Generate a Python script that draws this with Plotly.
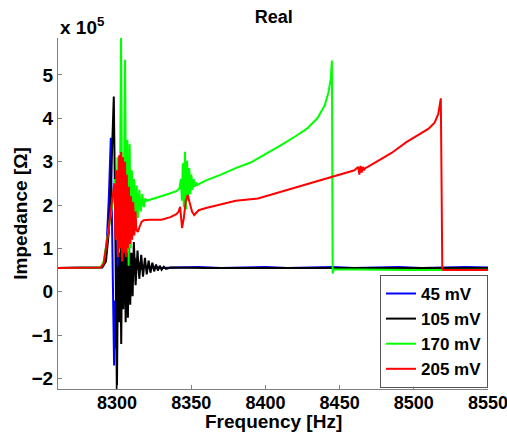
import plotly.graph_objects as go

# Real part of the impedance (units of 1e5 Ohm) versus drive frequency, for four drive levels.
f_45 = [8260, 8280, 8289, 8291, 8293, 8294.5, 8295.8, 8296.6, 8297.3, 8298.0, 8298.7, 8299.4,
        8300.1, 8300.8, 8301.5, 8302.2, 8303.0, 8303.8, 8304.6, 8305.5, 8306.4, 8307.3, 8308.2,
        8309.1, 8310.0, 8311.0, 8312.0, 8313.0, 8314.5, 8316, 8318, 8321, 8325, 8330, 8340,
        8355, 8370, 8385, 8400, 8415, 8430, 8445, 8460, 8475, 8490, 8505, 8520, 8535, 8550]
z_45 = [0.55, 0.56, 0.56, 0.62, 1.1, 2.2, 3.55, 1.6, -0.6, -1.7, -0.2, -1.3, 1.2, -0.6, 1.4,
        -0.3, 1.1, 0.0, 0.95, 0.15, 0.85, 0.3, 0.9, 0.4, 0.85, 0.45, 0.78, 0.5, 0.68, 0.52,
        0.6, 0.55, 0.57, 0.55, 0.56, 0.57, 0.55, 0.56, 0.57, 0.55, 0.56, 0.57, 0.55, 0.56,
        0.57, 0.55, 0.56, 0.57, 0.56]

f_105 = [8260, 8280, 8290, 8292.5, 8294.5, 8296.2, 8297.8, 8298.6, 8299.3, 8299.9, 8300.6,
         8301.3, 8302.0, 8302.8, 8303.5, 8304.2, 8305.0, 8305.8, 8306.6, 8307.3, 8308.1,
         8308.9, 8309.7, 8310.5, 8311.3, 8312.5, 8313.8, 8315.0, 8316.3, 8317.5, 8318.8,
         8320.0, 8321.3, 8322.5, 8323.8, 8325.0, 8326.3, 8327.5, 8328.8, 8330.0, 8331.5,
         8333, 8336, 8345, 8360, 8400, 8450, 8500, 8550]
z_105 = [0.55, 0.55, 0.56, 0.7, 1.4, 2.8, 4.5, 2.2, -0.6, -2.4, 0.6, -0.7, 1.6, -1.2, 1.3,
         -0.4, 1.5, -0.7, 1.0, -0.6, 1.1, -0.3, 0.9, -0.1, 1.15, 0.15, 0.95, 0.3, 0.85, 0.35,
         0.78, 0.4, 0.72, 0.44, 0.67, 0.47, 0.63, 0.49, 0.6, 0.51, 0.58, 0.53, 0.56, 0.55,
         0.55, 0.55, 0.55, 0.55, 0.55]

f_170 = [8260, 8280, 8289, 8291, 8293, 8295, 8297, 8298.5, 8299.4, 8300.3, 8301.3, 8302.0,
         8302.7, 8303.5, 8304.5, 8305.4, 8306.2, 8307.0, 8307.8, 8308.5, 8309.2, 8310.0,
         8310.7, 8311.5, 8312.3, 8313.2, 8314.0, 8315.0, 8316.0, 8317.0, 8318.0, 8319.0,
         8320, 8325, 8330, 8335, 8340, 8342, 8343.0, 8343.7, 8344.3, 8345.0, 8345.8, 8346.5,
         8347.2, 8347.9, 8348.7, 8349.4, 8350.1, 8350.8, 8351.6, 8352.4, 8353.2, 8354, 8356,
         8360, 8370, 8380, 8390, 8400, 8410, 8420, 8428, 8435, 8440, 8442.5, 8444, 8444.8,
         8445.3, 8446, 8460, 8480, 8500, 8520, 8535, 8550]
z_170 = [0.55, 0.55, 0.56, 0.7, 1.1, 1.6, 2.1, 2.6, 1.4, 3.1, 0.9, 2.4, 5.85, 1.1, 2.0, 5.35,
         0.9, 3.5, 0.6, 3.4, 1.0, 2.8, 1.3, 2.6, 1.6, 2.45, 1.7, 2.35, 1.85, 2.25, 1.95, 2.15,
         2.1, 2.15, 2.2, 2.26, 2.32, 2.38, 2.6, 2.1, 2.96, 1.95, 3.23, 1.9, 3.02, 2.1, 2.85,
         2.25, 2.7, 2.35, 2.6, 2.42, 2.52, 2.46, 2.5, 2.57, 2.7, 2.85, 2.98, 3.17, 3.37, 3.58,
         3.76, 4.0, 4.3, 4.6, 4.9, 5.33, 0.42, 0.52, 0.51, 0.51, 0.5, 0.51, 0.51, 0.51]

f_205 = [8260, 8280, 8289, 8291, 8292.5, 8294, 8295.5, 8297, 8298.2, 8299.0, 8299.8, 8300.6,
         8301.4, 8302.0, 8302.8, 8303.4, 8304.0, 8304.7, 8305.4, 8306.0, 8306.6, 8307.3,
         8308.0, 8308.7, 8309.4, 8310.2, 8310.9, 8311.7, 8312.4, 8313.1, 8314, 8315.2, 8316.5,
         8318, 8322, 8330, 8336, 8340, 8341.5, 8342.5, 8343.2, 8343.8, 8345, 8346.3, 8347.6,
         8349, 8350.5, 8352, 8353.5, 8355, 8360, 8370, 8380, 8395, 8410, 8425, 8440, 8452,
         8460, 8462.5, 8463.3, 8464.1, 8464.9, 8465.7, 8466.5, 8467.5, 8469, 8475, 8485, 8495,
         8505, 8510, 8514, 8516.5, 8518.2, 8519.2, 8520, 8535, 8550]
z_205 = [0.55, 0.55, 0.56, 0.65, 0.95, 1.35, 1.8, 2.2, 2.5, 1.2, 2.8, 0.8, 3.15, 1.0, 3.22,
         0.7, 3.1, 0.9, 3.0, 0.8, 2.7, 1.0, 2.42, 1.1, 2.2, 1.2, 2.07, 1.3, 1.85, 1.42, 1.38,
         1.5, 1.61, 1.65, 1.66, 1.66, 1.72, 1.79, 1.85, 1.96, 1.75, 1.47, 1.7, 2.1, 2.23,
         2.05, 1.85, 1.77, 1.83, 1.88, 1.93, 2.02, 2.1, 2.15, 2.3, 2.45, 2.6, 2.72, 2.8, 2.88,
         2.7, 2.9, 2.75, 2.88, 2.8, 2.86, 2.88, 3.0, 3.2, 3.45, 3.65, 3.76, 3.9, 4.1, 4.46,
         0.52, 0.5, 0.5, 0.5]

series = [
    ("45 mV", f_45, z_45, "#0000ff"),
    ("105 mV", f_105, z_105, "#000000"),
    ("170 mV", f_170, z_170, "#00ff00"),
    ("205 mV", f_205, z_205, "#ff0000"),
]

y_ticks = [-2, -1, 0, 1, 2, 3, 4, 5]
x_ticks = [8300, 8350, 8400, 8450, 8500, 8550]

font_family = "Liberation Sans, Arial, sans-serif"

fig = go.Figure()
for name, f, z, color in series:
    fig.add_trace(go.Scatter(x=f, y=z, mode="lines", name=f"<b>{name}</b>",
                             line=dict(color=color, width=2)))

fig.update_layout(
    width=507, height=432,
    margin=dict(l=58, r=19, t=38, b=43, autoexpand=False),
    paper_bgcolor="white", plot_bgcolor="white",
    font=dict(family=font_family, size=18, color="black"),
    title=dict(text="<b>Real</b>", x=0.54, xanchor="center", y=0.962, yanchor="middle",
               font=dict(size=18)),
    showlegend=True,
    legend=dict(x=1.0, xanchor="right", y=0.003, yanchor="bottom",
                bgcolor="white", bordercolor="#555", borderwidth=1,
                font=dict(size=17), tracegroupgap=0, itemwidth=30),
    annotations=[
        dict(text="<b>x 10<sup>5</sup></b>", xref="paper", yref="paper",
             x=0.0, y=1.0, xanchor="left", yanchor="bottom",
             showarrow=False, font=dict(size=19), yshift=-2),
        dict(text="<b>Frequency [Hz]</b>", xref="paper", yref="paper",
             x=0.5, y=-0.093, xanchor="center", yanchor="middle",
             showarrow=False, font=dict(size=19)),
        dict(text="<b>Impedance [\u03a9]</b>", xref="paper", yref="paper",
             x=-0.088, y=0.5, xanchor="center", yanchor="middle", textangle=-90,
             showarrow=False, font=dict(size=19)),
    ],
)

fig.update_xaxes(
    range=[8260.2, 8550], tickvals=x_ticks, ticktext=[f"<b>{v}</b>" for v in x_ticks],
    tickfont=dict(size=18), ticklabeloverflow="allow", automargin=False,
    ticklabelstandoff=-3,
    showgrid=False, zeroline=False, showline=True, linecolor="#7f7f7f", linewidth=1,
    ticks="inside", ticklen=4, tickcolor="#7f7f7f",
)
fig.update_yaxes(
    range=[-2.24, 5.85], tickvals=y_ticks,
    ticktext=[f"<b>{'\u2212' if v < 0 else ''}{abs(v)}</b>" for v in y_ticks],
    tickfont=dict(size=19), automargin=False,
    showgrid=False, zeroline=False, showline=True, linecolor="#7f7f7f", linewidth=1,
    ticks="inside", ticklen=4, tickcolor="#7f7f7f",
)

fig.write_html("out.html")
